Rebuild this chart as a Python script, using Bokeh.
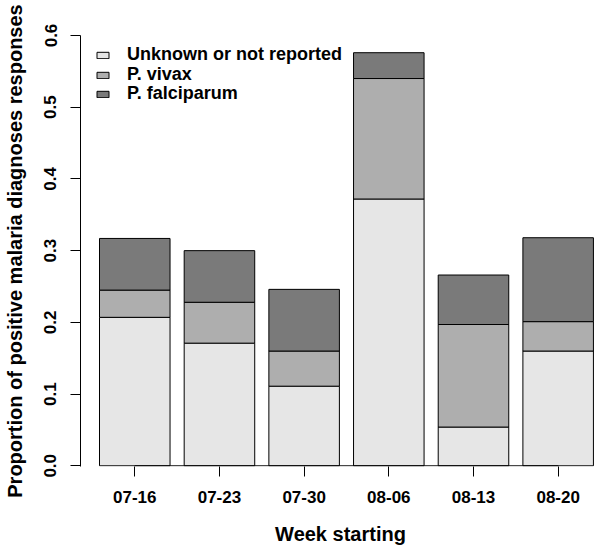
from bokeh.plotting import figure
from bokeh.models import (Range1d, FixedTicker, Legend, LegendItem,
                          PrintfTickFormatter, ColumnDataSource)
from bokeh.embed import file_html
from bokeh.resources import INLINE

weeks = ["07-16", "07-23", "07-30", "08-06", "08-13", "08-20"]
unknown = [0.207, 0.171, 0.111, 0.372, 0.054, 0.160]
vivax = [0.038, 0.057, 0.049, 0.168, 0.143, 0.041]
falciparum = [0.072, 0.072, 0.086, 0.036, 0.069, 0.117]
y_ticks = [0.0, 0.1, 0.2, 0.3, 0.4, 0.5, 0.6]
series_names = ["Unknown or not reported", "P. vivax", "P. falciparum"]
colors = ["#E6E6E6", "#AEAEAE", "#7A7A7A"]
x_title = "Week starting"
y_title = "Proportion of positive malaria diagnoses responses"

FONT = "Liberation Sans"
W, H = 600, 551
BORDER_L, BORDER_T, BORDER_B = 80, 35, 85
FRAME_H = H - BORDER_T - BORDER_B
X0, X1 = -0.641, 5.5
Y0, Y1 = -0.001, 0.6

pos = list(range(len(weeks)))
source = ColumnDataSource(dict(x=pos, unknown=unknown, vivax=vivax,
                               falciparum=falciparum))

p = figure(width=W, height=H, output_backend="svg", toolbar_location=None,
           x_range=Range1d(X0, X1), y_range=Range1d(Y0, Y1),
           min_border_left=BORDER_L, min_border_right=0,
           min_border_top=BORDER_T, min_border_bottom=BORDER_B)
p.outline_line_color = None
p.xgrid.visible = False
p.ygrid.visible = False

renderers = p.vbar_stack(["unknown", "vivax", "falciparum"], x="x", width=0.833,
                         source=source, fill_color=colors, line_color="black",
                         line_width=1)
p.line(x=pos, y=[0] * len(pos), line_color="black", line_width=1)

# axes
for ax in (p.xaxis[0], p.yaxis[0]):
    ax.major_tick_out = 10
    ax.major_tick_in = 0
    ax.minor_tick_out = 0
    ax.minor_tick_in = 0
    ax.major_tick_line_color = "black"
    ax.major_label_text_font = FONT
    ax.major_label_text_font_style = "bold"
    ax.major_label_text_font_size = "17px"
    ax.major_label_text_color = "black"
    ax.axis_label_text_font = FONT
    ax.axis_label_text_font_style = "bold"
    ax.axis_label_text_font_size = "20px"
    ax.axis_label_text_color = "black"

xa = p.xaxis[0]
xa.ticker = FixedTicker(ticks=pos)
xa.major_label_overrides = {i: w for i, w in zip(pos, weeks)}
xa.axis_line_color = None
xa.major_label_standoff = 14
xa.axis_label = x_title
xa.axis_label_standoff = 17

ya = p.yaxis[0]
ya.ticker = FixedTicker(ticks=y_ticks)
ya.formatter = PrintfTickFormatter(format="%.1f")
ya.axis_line_color = "black"
ya.major_label_orientation = "parallel"
ya.major_label_standoff = 14
ya.axis_label = y_title
ya.axis_label_standoff = 16

# legend: one row per Legend so the row pitch can match R's legend
ROW_PITCH, ROW1_CENTER, ROW_H = 19.2, 19.6, 21.5
for i, (name, r) in enumerate(zip(series_names, renderers)):
    vy = FRAME_H - ROW1_CENTER - ROW_PITCH * i - ROW_H / 2
    lg = Legend(items=[LegendItem(label=name, renderers=[r])],
                location=(15, round(vy)), padding=0, spacing=0, margin=0,
                glyph_width=15, glyph_height=8, label_height=18,
                label_standoff=17, border_line_color=None,
                background_fill_alpha=0,
                label_text_font=FONT, label_text_font_style="bold",
                label_text_font_size="18px", label_text_color="black")
    p.add_layout(lg)

open("out.html", "w").write(file_html(p, INLINE))
